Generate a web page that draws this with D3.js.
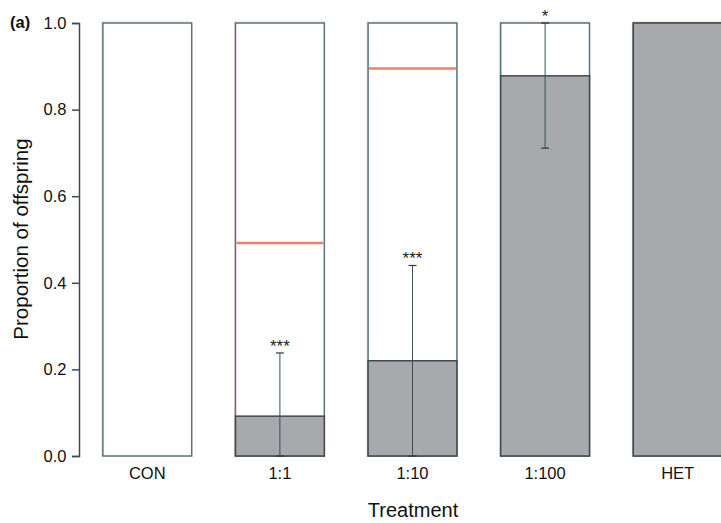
<!DOCTYPE html>
<html>
<head>
<meta charset="utf-8">
<script src="https://cdnjs.cloudflare.com/ajax/libs/d3/7.8.5/d3.min.js"></script>
<style>
  body { margin: 0; background: #fff; }
  text { font-family: "Liberation Sans", Arial, sans-serif; }
</style>
</head>
<body>
<svg id="chart"></svg>
<script>
  var categories = ["CON", "1:1", "1:10", "1:100", "HET"];
  var observed = [0.0, 0.092, 0.22, 0.878, 1.0];      // grey part of each bar
  var expected = [null, 0.492, 0.895, null, null];    // red reference line
  var errLow = [null, 0.0, 0.0, 0.711, null];
  var errHigh = [null, 0.238, 0.44, 1.0, null];
  var stars = ["", "***", "***", "*", ""];
  var yTicks = [0, 0.2, 0.4, 0.6, 0.8, 1.0];

  (function () {
    var svgW = 721, svgH = 523;
    var plotTop = 23, plotBottom = 456, axisX = 79;

    var svg = d3.select("#chart").attr("width", svgW).attr("height", svgH);

    var x = d3.scaleBand().domain(categories).range([81, 744])
      .paddingInner(0.33).paddingOuter(0.165);
    var y = d3.scaleLinear().domain([0, 1]).range([plotBottom, plotTop]);

    function idx(d) { return categories.indexOf(d); }
    function mid(d) { return x(d) + x.bandwidth() / 2; }

    // y axis
    var yAxis = svg.append("g")
      .attr("transform", "translate(" + axisX + ",0)")
      .call(d3.axisLeft(y).tickValues(yTicks).tickFormat(d3.format(".1f"))
        .tickSize(7).tickPadding(5.5));
    yAxis.select(".domain").attr("stroke", "#3c4a50").attr("stroke-width", 1.5);
    yAxis.selectAll(".tick line").attr("stroke", "#3c4a50").attr("stroke-width", 1.5);
    yAxis.selectAll(".tick text").attr("font-size", 16.5).attr("fill", "#111")
      .attr("font-family", "Liberation Sans, Arial, sans-serif");

    var groups = svg.selectAll(".bar").data(categories).enter()
      .append("g").attr("class", "bar");

    // faint pinkish ghost of the outline (scan look)
    groups.append("rect")
      .attr("x", function(d) { return x(d) - 1; })
      .attr("y", y(1) - 1)
      .attr("width", x.bandwidth())
      .attr("height", y(0) - y(1) + 1)
      .attr("fill", "none")
      .attr("stroke", "#f7d9d0")
      .attr("stroke-width", 1);

    // white box
    groups.append("rect")
      .attr("x", function(d) { return x(d); })
      .attr("y", y(1))
      .attr("width", x.bandwidth())
      .attr("height", y(0) - y(1))
      .attr("fill", "#fff")
      .attr("stroke", "#58737e")
      .attr("stroke-width", 1.5);

    // grey observed part
    groups.append("rect")
      .attr("x", function(d) { return x(d); })
      .attr("y", function(d) { return y(observed[idx(d)]); })
      .attr("width", x.bandwidth())
      .attr("height", function(d) { return y(0) - y(observed[idx(d)]); })
      .attr("fill", "#a7a9ac")
      .attr("stroke", function(d) { return observed[idx(d)] > 0 ? "#3f4a4e" : "#58737e"; })
      .attr("stroke-width", 1.5);

    // expected lines
    groups.filter(function(d) { return expected[idx(d)] != null; })
      .append("line")
      .attr("x1", function(d) { return x(d) + 1; })
      .attr("x2", function(d) { return x(d) + x.bandwidth() - 1; })
      .attr("y1", function(d) { return y(expected[idx(d)]); })
      .attr("y2", function(d) { return y(expected[idx(d)]); })
      .attr("stroke", "#f47c68")
      .attr("stroke-width", 2.5);

    // error bars
    var err = groups.filter(function(d) { return errLow[idx(d)] != null; });
    err.append("line")
      .attr("x1", mid).attr("x2", mid)
      .attr("y1", function(d) { return y(errLow[idx(d)]); })
      .attr("y2", function(d) { return y(errHigh[idx(d)]); })
      .attr("stroke", "#3a5058")
      .attr("stroke-width", 1);
    [errLow, errHigh].forEach(function(arr) {
      err.append("line")
        .attr("x1", function(d) { return mid(d) - 4; })
        .attr("x2", function(d) { return mid(d) + 4; })
        .attr("y1", function(d) { return y(arr[idx(d)]); })
        .attr("y2", function(d) { return y(arr[idx(d)]); })
        .attr("stroke", "#2f3a3e")
        .attr("stroke-width", 1.2);
    });

    // significance stars
    groups.append("text")
      .attr("x", mid)
      .attr("y", function(d) { var i = idx(d); return y(errHigh[i] == null ? 1 : errHigh[i]) - 1; })
      .attr("text-anchor", "middle")
      .attr("font-size", 17)
      .attr("fill", "#222")
      .text(function(d) { return stars[idx(d)]; });

    // category labels
    groups.append("text")
      .attr("x", mid)
      .attr("y", 478.5)
      .attr("text-anchor", "middle")
      .attr("font-size", 16.5)
      .attr("fill", "#111")
      .text(function(d) { return d; });

    svg.append("text")
      .attr("x", 413).attr("y", 517)
      .attr("text-anchor", "middle")
      .attr("font-size", 20)
      .attr("fill", "#111")
      .text("Treatment");

    svg.append("text")
      .attr("transform", "translate(28,239) rotate(-90)")
      .attr("text-anchor", "middle")
      .attr("font-size", 20.5)
      .attr("fill", "#111")
      .text("Proportion of offspring");

    svg.append("text")
      .attr("x", 10).attr("y", 28)
      .attr("font-size", 16.5)
      .attr("font-weight", "bold")
      .attr("fill", "#111")
      .text("(a)");
  }());
</script>
</body>
</html>
